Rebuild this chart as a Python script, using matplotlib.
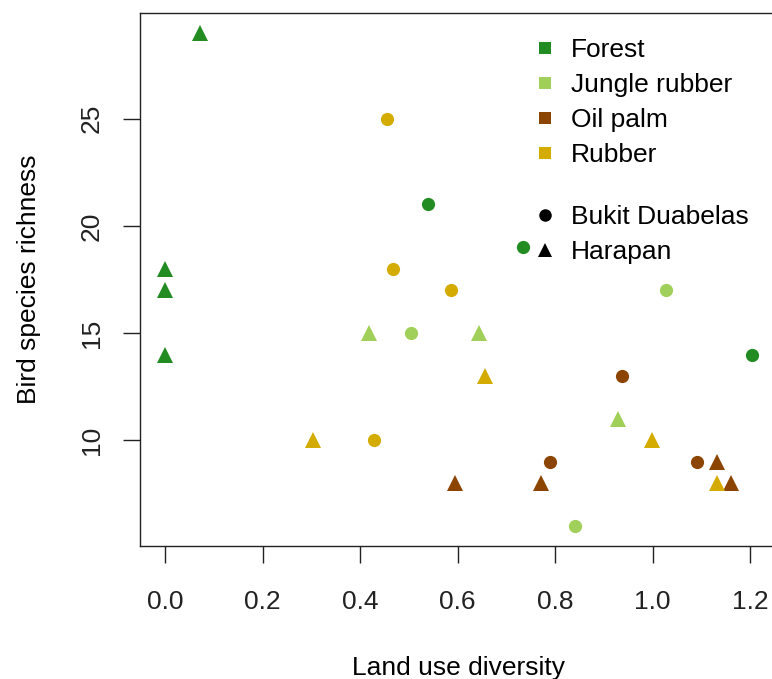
import matplotlib.pyplot as plt
from matplotlib.lines import Line2D

plt.rcParams['font.family'] = ['Liberation Sans', 'DejaVu Sans']

# land use diversity (x) and bird species richness (y), per land use and region
forest_bd_x = [0.54, 0.734, 1.203]
forest_bd_y = [21, 19, 14]
forest_h_x = [0.072, 0.0, 0.0, 0.0]
forest_h_y = [29, 18, 17, 14]

jungle_bd_x = [0.505, 1.027, 0.840]
jungle_bd_y = [15, 17, 6]
jungle_h_x = [0.418, 0.643, 0.930]
jungle_h_y = [15, 15, 11]

oil_bd_x = [0.937, 0.790, 1.092]
oil_bd_y = [13, 9, 9]
oil_h_x = [1.132, 0.594, 0.771, 1.161]
oil_h_y = [9, 8, 8, 8]

rubber_bd_x = [0.455, 0.468, 0.587, 0.429]
rubber_bd_y = [25, 18, 17, 10]
rubber_h_x = [0.656, 0.303, 0.998, 1.132]
rubber_h_y = [13, 10, 10, 8]

landuse = ["Forest", "Jungle rubber", "Oil palm", "Rubber"]
colors = ["#228B22", "#A0CF5A", "#8B4500", "#D4AC00"]
regions = ["Bukit Duabelas", "Harapan"]

bd_x = [forest_bd_x, jungle_bd_x, oil_bd_x, rubber_bd_x]
bd_y = [forest_bd_y, jungle_bd_y, oil_bd_y, rubber_bd_y]
h_x = [forest_h_x, jungle_h_x, oil_h_x, rubber_h_x]
h_y = [forest_h_y, jungle_h_y, oil_h_y, rubber_h_y]

W, H = 772, 679
fig = plt.figure(figsize=(W / 100, H / 100), dpi=100)
# plot region runs just past the right edge (cropped R figure)
ax = fig.add_axes([140 / W, (H - 546) / H, 636 / W, 533 / H])

for i in range(4):
    ax.plot(bd_x[i], bd_y[i], 'o', color=colors[i], ms=9.5, mew=0, ls='none')
    ax.plot(h_x[i], h_y[i], '^', color=colors[i], ms=11, mew=0, ls='none')

ax.set_xlim(-0.0513, 1.253)
ax.set_ylim(5.08, 29.92)
ax.set_xticks([0.0, 0.2, 0.4, 0.6, 0.8, 1.0, 1.2])
ax.set_xticklabels(["0.0", "0.2", "0.4", "0.6", "0.8", "1.0", "1.2"])
ax.set_yticks([10, 15, 20, 25])
ax.set_yticklabels(["10", "15", "20", "25"], rotation=90, va='center')
ax.tick_params(direction='out', length=12, width=1, labelsize=19, pad=20, colors='#222222')
ax.tick_params(axis='y', pad=14)
for s in ax.spines.values():
    s.set_linewidth(1.0)
    s.set_color('#222222')

ax.set_xlabel("Land use diversity", fontsize=19, labelpad=30)
ax.set_ylabel("Bird species richness", fontsize=19, labelpad=28)

h1 = [Line2D([], [], marker='s', color=c, ls='none', ms=8, mew=0) for c in colors]
leg1 = ax.legend(h1, landuse, loc='upper left', bbox_to_anchor=(521 / W, 1 - 25 / H),
                 bbox_transform=fig.transFigure, frameon=False, fontsize=19,
                 handlelength=0.8, handletextpad=0.6, labelspacing=0.42, borderpad=0)
ax.add_artist(leg1)
h2 = [Line2D([], [], marker='o', color='black', ls='none', ms=9, mew=0),
      Line2D([], [], marker='^', color='black', ls='none', ms=10, mew=0)]
ax.legend(h2, regions, loc='upper left', bbox_to_anchor=(521 / W, 1 - 192 / H),
          bbox_transform=fig.transFigure, frameon=False, fontsize=19,
          handlelength=0.8, handletextpad=0.6, labelspacing=0.42, borderpad=0)

fig.savefig("out.png", dpi=100)
